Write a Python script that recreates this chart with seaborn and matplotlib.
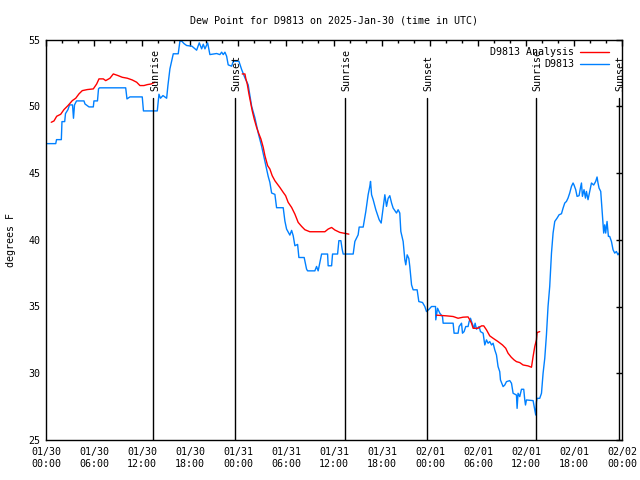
import numpy as np
import pandas as pd
import matplotlib
matplotlib.use("Agg")
import matplotlib.pyplot as plt
from matplotlib.lines import Line2D
from matplotlib.ticker import MultipleLocator
import seaborn as sns

# ---------------- data (hours since 2025-01-30 00:00 UTC, degrees F) ----------------
obs_hours = [0.12, 1.18, 1.28, 1.88, 1.96, 2.30, 2.40, 2.71, 2.90, 3.28, 3.40, 3.53, 3.78, 4.09, 4.71, 4.84,
             5.34, 5.88, 5.96, 6.40, 6.53, 6.65, 9.93, 10.09, 10.46, 12.00, 12.15, 13.88, 14.09, 14.28, 14.59,
             15.05, 15.21, 15.46, 15.88, 16.50, 16.71, 16.93, 17.21, 17.55, 18.21, 18.80, 19.13, 19.43, 19.63,
             19.84, 20.18, 20.46, 21.30, 21.71, 21.93, 22.13, 22.34, 22.55, 22.75, 23.18, 23.38, 23.80, 24.09,
             24.43, 24.84, 25.25, 25.68, 26.09, 26.50, 26.93, 27.34, 27.75, 27.96, 28.18, 28.59, 28.80, 29.63,
             29.84, 30.05, 30.46, 30.68, 30.88, 31.09, 31.43, 31.59, 32.25, 32.55, 32.68, 33.59, 33.80, 34.00,
             34.21, 34.43, 35.18, 35.25, 35.68, 35.80, 36.43, 36.59, 36.84, 37.00, 37.13, 38.38, 38.59, 39.00,
             39.13, 39.63, 39.96, 40.25, 40.46, 40.55, 40.68, 40.88, 41.21, 41.63, 41.88, 42.13, 42.34, 42.55,
             42.75, 42.96, 43.18, 43.38, 43.80, 44.00, 44.21, 44.34, 44.63, 44.84, 44.96, 45.13, 45.34, 45.46,
             45.68, 45.88, 46.38, 46.59, 47.05, 47.34, 47.55, 47.88, 48.18, 48.68, 48.71, 48.84, 48.93, 49.21,
             49.55, 49.63, 50.88, 51.00, 51.50, 51.63, 51.93, 52.05, 52.25, 52.46, 52.75, 52.88, 53.05, 53.25,
             53.50, 53.63, 53.80, 54.13, 54.30, 54.63, 54.84, 55.05, 55.25, 55.46, 55.68, 55.88, 56.09, 56.30,
             56.50, 56.71, 56.80, 57.13, 57.34, 57.55, 57.96, 58.18, 58.38, 58.80, 58.88, 59.00, 59.21, 59.43,
             59.71, 59.84, 59.93, 60.05, 60.88, 61.09, 61.21, 61.30, 61.38, 61.71, 61.93, 62.13, 62.34, 62.55,
             62.75, 62.96, 63.18, 63.38, 63.59, 63.88, 64.13, 64.43, 64.63, 64.84, 65.05, 65.25, 65.46, 65.68,
             65.88, 66.00, 66.21, 66.38, 66.63, 66.80, 66.93, 67.05, 67.25, 67.43, 67.55, 67.75, 67.88, 68.05,
             68.18, 68.46, 68.71, 68.88, 69.00, 69.13, 69.34, 69.55, 69.71, 69.84, 69.96, 70.13, 70.30, 70.46,
             70.68, 70.88, 71.09, 71.30, 71.50, 71.63]
obs_dewpt = [47.2, 47.2, 47.5, 47.5, 48.85, 48.85, 49.45, 49.75, 50.1, 50.1, 49.1, 50.1, 50.4, 50.4, 50.4, 50.17,
             49.95, 49.95, 50.4, 50.4, 51.3, 51.38, 51.38, 50.55, 50.7, 50.7, 49.65, 49.65, 50.9, 50.6, 50.8,
             50.6, 51.55, 52.8, 53.93, 53.93, 54.88, 54.88, 54.7, 54.55, 54.5, 54.2, 54.75, 54.3, 54.65,
             54.3, 54.75, 53.87, 53.95, 53.87, 54.05, 53.87, 54.05, 53.75, 53.1, 53.0, 53.37, 53.37, 53.37,
             52.75, 52.13, 51.6, 50.0, 49.13, 48.0, 47.0, 45.87, 44.75, 44.3, 43.5, 43.4, 42.4, 42.4,
             41.4, 40.8, 40.35, 40.7, 40.3, 39.55, 39.65, 38.67, 38.67, 37.8, 37.67, 37.67, 38.0, 37.67,
             38.3, 38.93, 38.93, 38.05, 38.05, 38.93, 38.93, 39.93, 39.93, 39.3, 38.93, 38.93, 39.87, 40.37,
             40.95, 40.95, 42.12, 43.37, 44.0, 44.37, 43.37, 43.0, 42.25, 41.5, 41.25, 42.37, 43.37, 42.5,
             43.1, 43.3, 42.75, 42.37, 42.0, 42.25, 42.0, 40.62, 39.87, 38.5, 38.12, 38.87, 38.6, 38.0,
             36.62, 36.25, 36.25, 35.37, 35.3, 35.0, 34.62, 34.8, 35.0, 35.0, 34.0, 34.5, 34.87, 34.5,
             34.25, 33.75, 33.75, 33.0, 33.0, 33.5, 33.75, 33.0, 33.12, 33.5, 33.5, 33.87, 34.12, 33.75,
             33.37, 33.75, 33.3, 33.5, 33.12, 33.0, 32.12, 32.5, 32.25, 32.37, 32.12, 32.25, 31.75, 31.37,
             30.5, 30.12, 29.5, 29.0, 29.12, 29.37, 29.45, 29.25, 28.5, 28.37, 27.37, 28.5, 28.25, 28.8,
             28.8, 28.0, 27.62, 28.0, 27.95, 27.25, 26.87, 27.87, 28.12, 28.12, 28.5, 30.0, 31.12, 32.87,
             35.0, 36.5, 39.0, 40.5, 41.37, 41.62, 41.87, 41.95, 42.37, 42.75, 42.87, 43.12, 43.5, 44.0,
             44.25, 44.1, 43.75, 43.25, 43.3, 43.87, 44.25, 43.25, 43.75, 43.12, 43.62, 43.0, 43.37, 43.87,
             44.25, 44.1, 44.37, 44.7, 44.25, 43.87, 43.62, 41.87, 40.5, 41.12, 40.5, 41.37, 40.25, 40.25,
             39.87, 39.25, 39.0, 39.12, 38.87, 39.0]

ana_hours_1 = [0.62, 0.96, 1.30, 1.80, 2.21, 2.71, 3.25, 3.68, 4.09, 4.50, 5.13, 5.88, 6.30, 6.59, 7.13, 7.43,
               7.96, 8.38, 8.96, 9.50, 10.13, 10.75, 11.30, 11.71, 12.21, 12.63, 13.13, 13.59]
ana_dewpt_1 = [48.8, 48.9, 49.25, 49.4, 49.75, 50.05, 50.42, 50.6, 50.93, 51.17, 51.25, 51.3, 51.67, 52.05, 52.05,
               51.92, 52.1, 52.42, 52.3, 52.17, 52.1, 51.97, 51.8, 51.55, 51.55, 51.62, 51.67, 51.8]
ana_hours_2 = [24.50, 24.84, 24.96, 25.13, 25.34, 25.59, 25.75, 26.00, 26.30, 26.59, 26.84, 27.13, 27.34, 27.68,
               27.96, 28.25, 28.59, 29.21, 29.63, 29.93, 30.25, 30.68, 31.09, 31.50, 31.93, 32.34, 32.96, 34.84,
               35.25, 35.68, 36.09, 36.71, 37.84]
ana_dewpt_2 = [52.42, 52.42, 52.05, 51.67, 50.93, 50.17, 49.67, 49.05, 48.42, 47.93, 47.55, 46.92, 46.3, 45.55,
               45.3, 44.8, 44.42, 43.92, 43.55, 43.3, 42.8, 42.42, 41.92, 41.3, 41.0, 40.75, 40.6, 40.6,
               40.8, 40.92, 40.73, 40.55, 40.42]
ana_hours_3 = [48.80, 50.05, 50.88, 51.50, 52.13, 52.75, 52.96, 53.18, 53.38, 54.00, 54.43, 54.71, 55.05, 55.46,
               55.88, 56.50, 57.05, 57.46, 57.75, 58.15, 58.50, 58.80, 59.21, 59.63, 60.25, 60.68, 60.88, 61.09,
               61.30, 61.38, 61.71]
ana_dewpt_3 = [34.35, 34.3, 34.25, 34.12, 34.2, 34.22, 34.0, 33.75, 33.37, 33.37, 33.55, 33.55, 33.25, 32.8,
               32.62, 32.37, 32.12, 31.87, 31.5, 31.2, 31.0, 30.87, 30.8, 30.62, 30.55, 30.45, 31.25, 32.0,
               32.5, 33.05, 33.12]

sun_hours = [13.38, 23.63, 37.38, 47.63, 61.21, 71.59]
sun_labels = ["Sunrise", "Sunset", "Sunrise", "Sunset", "Sunrise", "Sunset"]

xtick_hours = [0, 6, 12, 18, 24, 30, 36, 42, 48, 54, 60, 66, 72]
xtick_labels = ["01/30\n00:00", "01/30\n06:00", "01/30\n12:00", "01/30\n18:00",
                "01/31\n00:00", "01/31\n06:00", "01/31\n12:00", "01/31\n18:00",
                "02/01\n00:00", "02/01\n06:00", "02/01\n12:00", "02/01\n18:00",
                "02/02\n00:00"]
ytick_values = [25, 30, 35, 40, 45, 50, 55]

series_names = ["D9813 Analysis", "D9813"]
series_colors = {"D9813 Analysis": "#ff0000", "D9813": "#0080ff"}

# ---------------- build table ----------------
frames = []
for seg, (h, v) in enumerate([(ana_hours_1, ana_dewpt_1), (ana_hours_2, ana_dewpt_2), (ana_hours_3, ana_dewpt_3)]):
    frames.append(pd.DataFrame({"hour": h, "dewpt": v, "series": "D9813 Analysis", "seg": f"a{seg}"}))
frames.append(pd.DataFrame({"hour": obs_hours, "dewpt": obs_dewpt, "series": "D9813", "seg": "o0"}))
df = pd.concat(frames, ignore_index=True)

# ---------------- plot ----------------
sns.set_theme(style="white")
plt.rcParams["font.family"] = ["DejaVu Sans Mono", "DejaVu Sans"]
FS = 7.2

fig = plt.figure(figsize=(6.4, 4.8), dpi=100)
ax = fig.add_axes([46.3 / 640, 40 / 480, (622 - 46.3) / 640, (440 - 39.5) / 480])

sns.lineplot(data=df, x="hour", y="dewpt", hue="series", units="seg", estimator=None,
             palette=series_colors, hue_order=["D9813", "D9813 Analysis"], linewidth=1.0,
             legend=False, ax=ax)

for h, lab in zip(sun_hours, sun_labels):
    ax.axvline(h, ymin=0, ymax=0.854, color="black", linewidth=1.0)
    ax.text(h + 0.2, 0.872, lab, transform=ax.get_xaxis_transform(), rotation=90,
            ha="center", va="bottom", fontsize=FS, color="black")

ax.set_xlim(0, 72)
ax.set_ylim(25, 55)
ax.set_xticks(xtick_hours)
ax.set_xticklabels(xtick_labels)
ax.xaxis.set_minor_locator(MultipleLocator(2))
ax.set_yticks(ytick_values)
ax.set_yticklabels([str(v) for v in ytick_values])
ax.tick_params(which="both", direction="in", top=True, right=True, color="black",
               labelsize=FS, labelcolor="black", width=1.0)
ax.tick_params(which="major", length=4.5, pad=5)
ax.tick_params(which="minor", length=2.5)
ax.tick_params(axis="y", pad=4)
for s in ax.spines.values():
    s.set_color("black")
    s.set_linewidth(1.0)
    s.set_visible(True)

ax.set_xlabel("")
ax.set_ylabel("degrees F", fontsize=FS, color="black", labelpad=9)
ax.set_title("Dew Point for D9813 on 2025-Jan-30 (time in UTC)", fontsize=FS, color="black", pad=11.5)

handles = [Line2D([], [], color=series_colors[n], linewidth=1.0) for n in series_names]
leg = ax.legend(handles, series_names, loc="upper right", markerfirst=False, frameon=False,
                fontsize=FS, handlelength=2.9, handletextpad=0.6, labelspacing=0.2,
                borderaxespad=0.3, borderpad=0.2,
                bbox_to_anchor=(1 - 8 / 576, 1 - 2.5 / 400))
for t in leg.get_texts():
    t.set_color("black")

fig.savefig("out.png", dpi=100, facecolor="white")
